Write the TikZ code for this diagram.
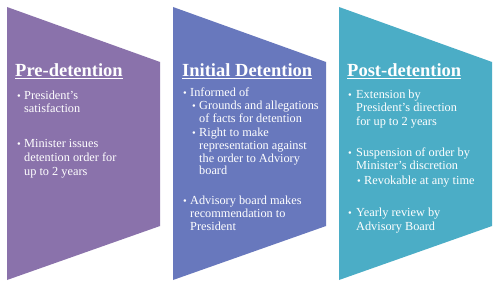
\documentclass[tikz,border=0pt]{standalone}
\usepackage{fontspec}
\setmainfont{Liberation Serif}
\definecolor{cpur}{HTML}{8A72AB}
\definecolor{cblu}{HTML}{6878BD}
\definecolor{ctea}{HTML}{4BADC6}
\newcommand\mytl[4][body]{\node[#1] (#2) at (#3) {#4};}
\begin{document}
\begin{tikzpicture}[x=1pt,y=-1pt,
  head/.style={anchor=base west,inner sep=0pt,text=white,font=\fontsize{18.5}{20}\selectfont\bfseries},
  body/.style={anchor=base west,inner sep=0pt,text=white,font=\fontsize{12.3}{13.3}\selectfont},
  bul/.style={anchor=base west,inner sep=0pt,text=white,font=\fontsize{10.5}{13.3}\selectfont}]
\useasboundingbox (0,0) rectangle (500,288);
\fill[white] (0,0) rectangle (500,288);
% shapes
\fill[cpur] (7,7) -- (160,62) -- (160,226) -- (7,280) -- cycle;
\fill[cblu] (173,7) -- (326,62) -- (326,226) -- (173,280) -- cycle;
\fill[ctea] (339,7) -- (492,62) -- (492,226) -- (339,280) -- cycle;
% column 1
\mytl[head]{h1}{15,77}{\underline{Pre-detention}}
\mytl[bul]{a1}{17,100}{•}
\mytl{a1l1}{24,100}{President’s}
\mytl{a1l2}{24,113}{satisfaction}
\mytl[bul]{a2}{17,148}{•}
\mytl{a2l1}{24,148}{Minister issues}
\mytl{a2l2}{24,162}{detention order for}
\mytl{a2l3}{24,176}{up to 2 years}
% column 2
\mytl[head]{h2}{182,77}{\underline{Initial Detention}}
\mytl[bul]{b1}{183,97}{•}
\mytl{b1l1}{190,97}{Informed of}
\mytl[bul]{b2}{192,110}{•}
\mytl{b2l1}{199,110}{Grounds and allegations}
\mytl{b2l2}{199,123}{of facts for detention}
\mytl[bul]{b3}{192,137}{•}
\mytl{b3l1}{199,137}{Right to make}
\mytl{b3l2}{199,150}{representation against}
\mytl{b3l3}{199,163}{the order to Adviory}
\mytl{b3l4}{199,175}{board}
\mytl[bul]{b4}{183,205}{•}
\mytl{b4l1}{190,205}{Advisory board makes}
\mytl{b4l2}{190,218}{recommendation to}
\mytl{b4l3}{190,230}{President}
% column 3
\mytl[head]{h3}{347,77}{\underline{Post-detention}}
\mytl[bul]{c1}{348,99}{•}
\mytl{c1l1}{356,99}{Extension by}
\mytl{c1l2}{356,112}{President’s direction}
\mytl{c1l3}{356,126}{for up to 2 years}
\mytl[bul]{c2}{348,157}{•}
\mytl{c2l1}{356,157}{Suspension of order by}
\mytl{c2l2}{356,170}{Minister’s discretion}
\mytl[bul]{c3}{357,185}{•}
\mytl{c3l1}{364,185}{Revokable at any time}
\mytl[bul]{c4}{348,217}{•}
\mytl{c4l1}{356,217}{Yearly review by}
\mytl{c4l2}{356,230}{Advisory Board}
\end{tikzpicture}
\end{document}
